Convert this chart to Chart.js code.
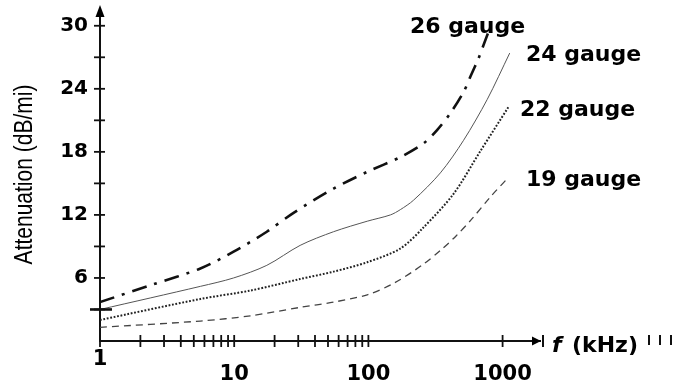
<!DOCTYPE html>
<html>
<head>
<meta charset="utf-8">
<script src="https://cdn.jsdelivr.net/npm/chart.js@4.4.0/dist/chart.umd.min.js"></script>
<style>
    html, body { margin: 0; padding: 0; background: #fff; }
</style>
</head>
<body>
<canvas id="chart" width="677" height="383"></canvas>
<script>
// values (frequency in kHz, attenuation in dB/mi)
const gauge26Freq = [1, 2.5, 5.6, 9.9, 17.5, 27.7, 55, 98, 173, 257, 326, 409, 512, 577, 662, 747, 790];
const gauge26Att = [3.7, 5.4, 6.9, 8.5, 10.4, 12.2, 14.5, 16.1, 17.5, 18.8, 20.1, 21.7, 23.7, 25.2, 26.9, 28.7, 29.5];

const gauge24Freq = [1, 5.6, 9.9, 17.5, 31, 55, 98, 146, 173, 217, 344, 512, 769, 1130];
const gauge24Att = [3.0, 5.2, 6.0, 7.2, 9.1, 10.4, 11.4, 12.0, 12.5, 13.4, 16.0, 19.1, 23.0, 27.4];

const gauge22Freq = [1, 5.6, 13.2, 31, 55, 98, 173, 257, 431, 685, 1110];
const gauge22Att = [2.0, 4.0, 4.8, 5.9, 6.6, 7.5, 8.8, 10.8, 14.0, 18.1, 22.3];

const gauge19Freq = [1, 5.6, 13.2, 31, 55, 98, 155, 250, 350, 450, 580, 810, 1110];
const gauge19Att = [1.3, 1.9, 2.4, 3.2, 3.7, 4.4, 5.5, 7.2, 8.7, 10.0, 11.5, 13.7, 15.6];

const gaugeNames = ["26 gauge", "24 gauge", "22 gauge", "19 gauge"];
const yTitle = "Attenuation (dB/mi)";

const xTickValues = [1, 2, 3, 4, 5, 6, 7, 8, 9, 10, 20, 30, 40, 50, 60, 70, 80, 90, 100, 1000];
const xTickLabels = [1, 10, 100, 1000];
const yTickValues = [3, 6, 9, 12, 15, 18, 21, 24, 27, 30];
const yTickLabels = [6, 12, 18, 24, 30];

const toPoints = (freqs, atts) => freqs.map((f, i) => ({ x: f, y: atts[i] }));

const lineStyle = (color, width, dash) => ({
    borderColor: color,
    borderWidth: width,
    borderDash: dash,
    borderCapStyle: "butt",
    pointRadius: 0,
    fill: false,
    tension: 0.3
});

const datasets = [
    { label: gaugeNames[0], data: toPoints(gauge26Freq, gauge26Att), ...lineStyle("#111", 2.6, [15, 8, 3, 8]) },
    { label: gaugeNames[1], data: toPoints(gauge24Freq, gauge24Att), ...lineStyle("#555", 1, []) },
    { label: gaugeNames[2], data: toPoints(gauge22Freq, gauge22Att), ...lineStyle("#222", 2, [1.8, 1.7]) },
    { label: gaugeNames[3], data: toPoints(gauge19Freq, gauge19Att), ...lineStyle("#444", 1.3, [7, 5]) }
];

// ticks that cross the axes, arrow heads, axis title, curve names and the f (kHz) caption
const axisDecor = {
    id: "axisDecor",
    afterDraw(chart) {
        const { ctx, chartArea, scales } = chart;
        const { left, top, bottom, right } = chartArea;
        const x = scales.x;
        const y = scales.y;
        const seg = (x1, y1, x2, y2) => {
            ctx.beginPath();
            ctx.moveTo(x1, y1);
            ctx.lineTo(x2, y2);
            ctx.stroke();
        };
        ctx.save();
        ctx.strokeStyle = "#111";
        ctx.fillStyle = "#000";
        ctx.lineWidth = 1.8;

        xTickValues.forEach(v => {
            const px = x.getPixelForValue(v);
            seg(px, bottom - 6, px, bottom + 6);
        });
        yTickValues.forEach(v => {
            const py = y.getPixelForValue(v);
            seg(left - 6, py, left + 5, py);
        });

        // short heavy mark where the 24 gauge curve starts
        ctx.lineWidth = 2.6;
        const startY = y.getPixelForValue(gauge24Att[0]);
        seg(left - 10, startY, left + 12, startY);

        // arrow on the y axis
        ctx.beginPath();
        ctx.moveTo(left, top - 5);
        ctx.lineTo(left - 4.5, top + 7);
        ctx.lineTo(left + 4.5, top + 7);
        ctx.closePath();
        ctx.fill();

        // arrow on the x axis
        ctx.beginPath();
        ctx.moveTo(right + 1, bottom);
        ctx.lineTo(right - 8, bottom - 4.5);
        ctx.lineTo(right - 8, bottom + 4.5);
        ctx.closePath();
        ctx.fill();
        ctx.lineWidth = 2;
        seg(right + 3, bottom - 6, right + 3, bottom + 6);

        // y title, a little widened like the scanned original
        ctx.save();
        ctx.translate(25, (top + bottom) / 2 - 1);
        ctx.rotate(-Math.PI / 2);
        ctx.scale(1, 1.25);
        ctx.font = "21px 'Liberation Sans'";
        ctx.textAlign = "center";
        ctx.textBaseline = "middle";
        ctx.fillText(yTitle, 0, 0);
        ctx.restore();

        ctx.font = "bold 22px 'DejaVu Sans'";
        ctx.textBaseline = "alphabetic";
        ctx.textAlign = "left";
        ctx.fillText(gaugeNames[0], 410, 33);
        ctx.fillText(gaugeNames[1], 526, 61);
        ctx.fillText(gaugeNames[2], 520, 116);
        ctx.fillText(gaugeNames[3], 526, 186);

        ctx.font = "italic bold 22px 'DejaVu Sans'";
        ctx.fillText("f", 552, 352);
        ctx.font = "bold 22px 'DejaVu Sans'";
        ctx.fillText("(kHz)", 572, 352);

        ctx.lineWidth = 2;
        [649, 660, 671].forEach(px => seg(px, bottom - 6, px, bottom + 4));
        ctx.restore();
    }
};

new Chart(document.getElementById("chart").getContext("2d"), {
    type: "line",
    data: { datasets: datasets },
    options: {
        responsive: false,
        animation: false,
        layout: { padding: { left: 0, right: 137, top: 10, bottom: 0 } },
        plugins: {
            legend: { display: false },
            tooltip: { enabled: false }
        },
        scales: {
            x: {
                type: "logarithmic",
                min: 1,
                max: 1900,
                afterBuildTicks: (scale) => {
                    scale.ticks = xTickValues.map(v => ({ value: v }));
                },
                afterFit: (scale) => {
                    scale.height = 42;
                },
                ticks: {
                    autoSkip: false,
                    maxRotation: 0,
                    minRotation: 0,
                    padding: 12,
                    color: "#000",
                    font: { family: "DejaVu Sans", size: 21, weight: "bold", lineHeight: 0.67 },
                    callback: (value) => {
                        if (value === 1) return ["1", ""];
                        if (xTickLabels.includes(value)) return ["", String(value)];
                        return "";
                    }
                },
                grid: { display: true, drawOnChartArea: false, drawTicks: false },
                border: { display: true, color: "#111", width: 2 }
            },
            y: {
                type: "linear",
                min: 0,
                max: 31.5,
                afterBuildTicks: (scale) => {
                    scale.ticks = yTickValues.concat([31.5]).map(v => ({ value: v }));
                },
                afterFit: (scale) => {
                    scale.width = 100;
                },
                ticks: {
                    autoSkip: false,
                    padding: 0,
                    color: "#000",
                    font: { family: "DejaVu Sans", size: 20, weight: "bold" },
                    callback: (value) => {
                        if (value === 31.5) return [];
                        return yTickLabels.includes(value) ? String(value) : "";
                    }
                },
                grid: { display: true, drawOnChartArea: false, drawTicks: true, tickLength: 12, tickColor: "rgba(0,0,0,0)" },
                border: { display: true, color: "#111", width: 2 }
            }
        }
    },
    plugins: [axisDecor]
});
</script>
</body>
</html>
